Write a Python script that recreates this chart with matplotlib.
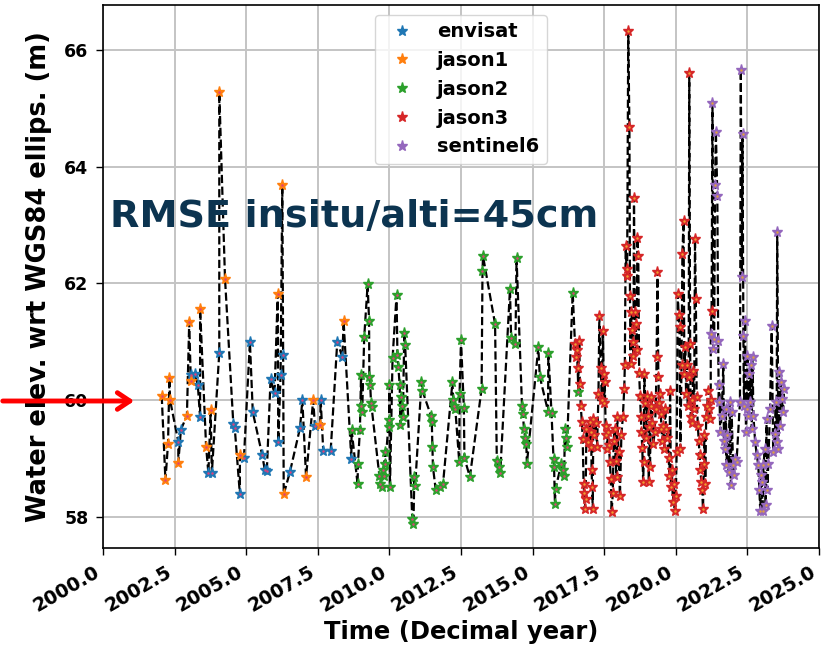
import numpy as np
import matplotlib
matplotlib.use("Agg")
import matplotlib.pyplot as plt

# ---------------- data ----------------
envisat_t = [2002.63, 2002.72, 2003.06, 2003.21, 2003.31, 2003.39, 2003.68, 2003.80, 2004.06,
             2004.55, 2004.60, 2004.78, 2004.92, 2005.13, 2005.23, 2005.56, 2005.65, 2005.72,
             2005.85, 2005.99, 2006.12, 2006.20, 2006.29, 2006.53, 2006.88, 2006.96, 2007.40,
             2007.60, 2007.69, 2007.95, 2008.18, 2008.36, 2008.67]
envisat_h = [59.28, 59.49, 60.43, 60.44, 60.26, 59.70, 58.74, 58.74, 60.81,
             59.59, 59.52, 58.38, 59.00, 60.99, 59.79, 59.05, 58.80, 58.78,
             60.35, 60.11, 59.28, 60.42, 60.77, 58.77, 59.52, 60.00, 59.55,
             60.00, 59.13, 59.13, 61.00, 60.73, 58.99]

jason1_t = [2002.05, 2002.18, 2002.27, 2002.32, 2002.34, 2002.63, 2002.93, 2003.01, 2003.08,
            2003.39, 2003.60, 2003.76, 2004.06, 2004.26, 2004.78, 2006.10, 2006.26, 2006.31,
            2007.09, 2007.34, 2007.58, 2008.40]
jason1_h = [60.07, 58.62, 59.25, 60.38, 60.00, 58.92, 59.73, 61.33, 60.33,
            61.56, 59.20, 59.83, 65.28, 62.08, 59.05, 61.81, 63.68, 58.38,
            58.68, 60.00, 59.57, 61.36]

jason2_t = [2008.68, 2008.89, 2008.90, 2008.97, 2009.01, 2009.02, 2009.05, 2009.12, 2009.24,
            2009.29, 2009.30, 2009.33, 2009.36, 2009.38, 2009.65, 2009.68, 2009.73, 2009.78,
            2009.80, 2009.84, 2009.86, 2009.98, 2009.99, 2010.00, 2010.02, 2010.11, 2010.25,
            2010.28, 2010.31, 2010.36, 2010.38, 2010.42, 2010.45, 2010.47, 2010.52, 2010.55,
            2010.80, 2010.84, 2010.87, 2010.90, 2011.12, 2011.15, 2011.45, 2011.48, 2011.50,
            2011.52, 2011.62, 2011.75, 2011.87, 2012.20, 2012.23, 2012.27, 2012.30, 2012.44,
            2012.45, 2012.50, 2012.60, 2012.62, 2012.81, 2013.22, 2013.25, 2013.27, 2013.69,
            2013.75, 2013.82, 2013.87, 2014.21, 2014.25, 2014.40, 2014.44, 2014.63, 2014.66,
            2014.70, 2014.74, 2014.78, 2014.80, 2015.20, 2015.25, 2015.54, 2015.55, 2015.66,
            2015.73, 2015.75, 2015.78, 2015.80, 2016.00, 2016.05, 2016.10, 2016.13, 2016.17,
            2016.20, 2016.40, 2016.60]
jason2_h = [59.49, 58.55, 58.90, 59.48, 60.43, 59.89, 59.79, 61.07, 61.98,
            61.36, 60.40, 60.25, 59.94, 59.87, 58.70, 58.55, 58.50, 58.80,
            58.70, 59.10, 58.90, 59.66, 59.53, 60.25, 58.50, 60.71, 61.80,
            60.77, 60.57, 60.25, 59.57, 60.05, 59.90, 59.70, 61.14, 60.94,
            57.95, 57.87, 58.67, 58.53, 60.30, 60.16, 59.73, 59.62, 59.20,
            58.85, 58.45, 58.50, 58.55, 60.30, 60.00, 59.90, 59.85, 58.93,
            60.10, 61.03, 59.86, 59.00, 58.68, 60.19, 62.21, 62.46, 61.30,
            58.95, 58.85, 58.75, 61.90, 61.06, 60.95, 62.43, 59.90, 59.75,
            59.50, 59.35, 59.25, 58.90, 60.90, 60.40, 59.80, 60.81, 59.78,
            58.99, 58.85, 58.22, 58.47, 58.90, 58.80, 58.70, 59.50, 59.35,
            59.20, 61.84, 60.13]

jason3_t = [2016.48, 2016.52, 2016.55, 2016.60, 2016.63, 2016.65, 2016.68, 2016.72, 2016.75,
            2016.78, 2016.80, 2016.82, 2016.85, 2016.88, 2016.95, 2017.00, 2017.03, 2017.05,
            2017.06, 2017.08, 2017.10, 2017.12, 2017.15, 2017.20, 2017.25, 2017.30, 2017.33,
            2017.38, 2017.42, 2017.45, 2017.48, 2017.50, 2017.52, 2017.55, 2017.58, 2017.60,
            2017.63, 2017.66, 2017.70, 2017.73, 2017.76, 2017.80, 2017.83, 2017.86, 2017.90,
            2017.93, 2017.96, 2018.00, 2018.05, 2018.10, 2018.15, 2018.20, 2018.22, 2018.25,
            2018.28, 2018.30, 2018.34, 2018.38, 2018.40, 2018.42, 2018.45, 2018.48, 2018.50,
            2018.52, 2018.54, 2018.57, 2018.60, 2018.63, 2018.66, 2018.69, 2018.72, 2018.75,
            2018.78, 2018.80, 2018.83, 2018.86, 2018.88, 2018.90, 2018.93, 2018.96, 2019.00,
            2019.03, 2019.06, 2019.08, 2019.10, 2019.13, 2019.15, 2019.18, 2019.22, 2019.26,
            2019.30, 2019.33, 2019.36, 2019.39, 2019.42, 2019.45, 2019.48, 2019.50, 2019.53,
            2019.56, 2019.60, 2019.63, 2019.66, 2019.70, 2019.75, 2019.78, 2019.80, 2019.83,
            2019.86, 2019.90, 2019.93, 2019.96, 2020.00, 2020.03, 2020.07, 2020.10, 2020.13,
            2020.16, 2020.20, 2020.23, 2020.27, 2020.30, 2020.33, 2020.36, 2020.39, 2020.42,
            2020.45, 2020.47, 2020.50, 2020.52, 2020.55, 2020.58, 2020.60, 2020.64, 2020.67,
            2020.70, 2020.73, 2020.77, 2020.80, 2020.83, 2020.86, 2020.89, 2020.92, 2020.95,
            2020.98, 2021.00, 2021.03, 2021.06, 2021.10, 2021.13, 2021.16, 2021.19, 2021.22,
            2021.25]
jason3_h = [60.96, 60.73, 60.85, 60.55, 61.01, 60.27, 59.90, 59.62, 59.33,
            58.55, 58.40, 58.13, 58.30, 59.50, 59.28, 59.62, 59.45, 59.20,
            58.79, 58.50, 58.13, 59.67, 59.40, 59.60, 59.20, 60.10, 61.43,
            60.55, 60.00, 61.18, 60.45, 59.95, 60.30, 59.55, 59.40, 59.15,
            59.45, 59.22, 58.93, 58.65, 58.08, 58.40, 59.30, 59.50, 58.95,
            58.67, 59.70, 59.10, 58.35, 59.40, 59.70, 60.19, 60.59, 62.64,
            62.25, 62.12, 66.33, 64.68, 61.78, 60.62, 61.50, 61.20, 61.00,
            60.75, 63.46, 61.50, 61.30, 60.85, 62.78, 62.46, 60.46, 60.07,
            59.70, 59.45, 59.17, 58.60, 58.93, 60.44, 59.95, 59.35, 60.07,
            59.73, 58.60, 59.53, 58.85, 59.90, 60.05, 59.60, 59.25, 59.45,
            59.85, 60.73, 62.20, 60.39, 59.95, 60.10, 59.75, 59.50, 59.30,
            59.55, 59.15, 59.85, 59.50, 59.35, 59.00, 58.70, 60.15, 58.50,
            58.80, 58.25, 58.55, 58.10, 58.35, 59.10, 61.81, 61.45, 61.25,
            59.16, 60.60, 62.50, 63.07, 60.45, 60.90, 60.10, 60.60, 59.90,
            60.40, 65.61, 60.96, 59.70, 60.00, 59.60, 60.50, 59.85, 62.75,
            61.73, 60.05, 59.55, 59.30, 59.05, 58.80, 58.60, 58.45, 58.13,
            58.90, 59.40, 58.55, 59.70, 59.90, 60.16, 59.85, 59.68, 60.00,
            61.53]

sentinel6_t = [2021.22, 2021.28, 2021.31, 2021.34, 2021.37, 2021.40, 2021.45, 2021.48, 2021.50,
               2021.52, 2021.55, 2021.60, 2021.66, 2021.68, 2021.72, 2021.75, 2021.77, 2021.80,
               2021.85, 2021.88, 2021.92, 2021.95, 2022.00, 2022.03, 2022.06, 2022.12, 2022.24,
               2022.27, 2022.30, 2022.33, 2022.36, 2022.38, 2022.42, 2022.45, 2022.47, 2022.50,
               2022.53, 2022.56, 2022.59, 2022.62, 2022.65, 2022.68, 2022.71, 2022.77, 2022.83,
               2022.88, 2022.92, 2022.95, 2022.98, 2023.00, 2023.03, 2023.06, 2023.11, 2023.14,
               2023.17, 2023.20, 2023.23, 2023.29, 2023.35, 2023.40, 2023.46, 2023.49, 2023.52,
               2023.54, 2023.58, 2023.62, 2023.64, 2023.68, 2023.70, 2023.75, 2023.78]
sentinel6_h = [61.13, 65.09, 60.87, 61.04, 63.69, 64.60, 63.49, 61.01, 59.96,
               60.25, 59.45, 59.73, 60.62, 59.30, 59.16, 59.85, 58.88, 59.40,
               58.76, 59.96, 58.54, 59.79, 58.88, 58.71, 58.99, 58.93, 59.96,
               65.66, 62.10, 64.55, 61.09, 59.90, 61.36, 59.45, 59.85, 60.76,
               59.73, 60.44, 59.96, 60.60, 59.50, 60.73, 59.73, 59.28, 59.05,
               58.88, 58.45, 58.09, 58.71, 58.59, 58.09, 58.88, 59.16, 58.19,
               59.68, 58.45, 58.90, 59.85, 61.27, 59.10, 59.42, 59.96, 59.28,
               62.88, 59.16, 60.47, 59.56, 60.30, 60.02, 59.79, 60.19]

missions = ["envisat", "jason1", "jason2", "jason3", "sentinel6"]
times = [envisat_t, jason1_t, jason2_t, jason3_t, sentinel6_t]
heights = [envisat_h, jason1_h, jason2_h, jason3_h, sentinel6_h]
colors = ["#1f77b4", "#ff7f0e", "#2ca02c", "#d62728", "#9467bd"]
center_cols = ["#e0407a", "#e0407a", "#e0407a", "#f0a030", "#e0a040"]

x_ticks = [2000.0, 2002.5, 2005.0, 2007.5, 2010.0, 2012.5, 2015.0, 2017.5, 2020.0, 2022.5, 2025.0]
y_ticks = [58, 60, 62, 64, 66]

# ---------------- figure ----------------
fig = plt.figure(figsize=(8.23, 6.51), dpi=100)
ax = fig.add_axes([103 / 823, 1 - 548 / 651, (819 - 103) / 823, (548 - 5) / 651])

all_t = np.concatenate([np.asarray(t) for t in times])
all_h = np.concatenate([np.asarray(h) for h in heights])
order = np.argsort(all_t, kind="stable")
ax.plot(all_t[order], all_h[order], "k--", lw=1.6, zorder=2)

for name, t, h, c, cc in zip(missions, times, heights, colors, center_cols):
    ax.plot(t, h, "*", color=c, markersize=8, label=name, zorder=3, linestyle="none")
    ax.plot(t, h, ".", color=cc, markersize=1.5, zorder=4)

ax.set_xlim(2000, 2025)
ax.set_ylim(57.46, 66.77)
ax.set_xticks(x_ticks)
ax.set_xticklabels([f"{v:.1f}" for v in x_ticks], rotation=30, ha="right",
                   rotation_mode="default", fontsize=13.7, fontweight="bold")
ax.set_yticks(y_ticks)
ax.set_yticklabels([str(v) for v in y_ticks], fontsize=12.5, fontweight="bold")
ax.tick_params(axis="both", length=5, width=1, pad=5.5)
ax.grid(True, color="#c4c4c4", lw=1.4)
ax.set_axisbelow(True)
for s in ax.spines.values():
    s.set_linewidth(1.2)

ax.set_xlabel("Time (Decimal year)", fontsize=17.5, fontweight="bold", labelpad=3)
ax.set_ylabel("Water elev. wrt WGS84 ellips. (m)", fontsize=18.5, fontweight="bold", labelpad=9)

leg = ax.legend(loc="upper center", prop={"size": 14, "weight": "bold"}, markerscale=1.0)

fig.text(110 / 823, 1 - 217 / 651, "RMSE insitu/alti=45cm", fontsize=27.5,
         fontweight="bold", color="#0c3450", va="center", ha="left")

ax.annotate("", xy=(137, 651 - 401), xytext=(0, 651 - 401),
            xycoords="figure pixels", textcoords="figure pixels",
            arrowprops=dict(arrowstyle="->,head_length=0.9,head_width=0.6",
                            color="#ff0000", lw=3.5),
            annotation_clip=False, zorder=10)

fig.savefig("out.png", dpi=100)
